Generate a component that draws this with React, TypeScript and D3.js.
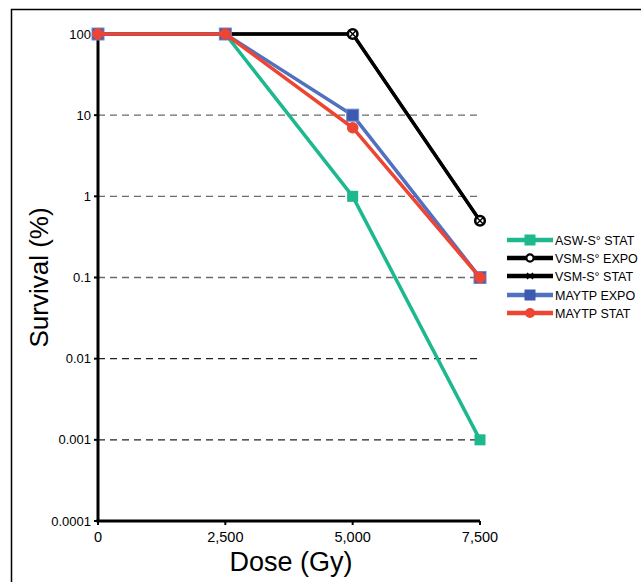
import { useEffect, useRef } from "react"
import * as d3 from "d3"

const doses = [0, 2500, 5000, 7500]
const xTicks = [0, 2500, 5000, 7500]
const yTicks = [100, 10, 1, 0.1, 0.01, 0.001, 0.0001]
const yTickLabels = ["100", "10", "1", "0.1", "0.01", "0.001", "0.0001"]
const gridValues = [10, 1, 0.1, 0.01, 0.001]

const aswStat = [100, 100, 1, 0.001]
const vsmExpo = [100, 100, 100, 0.5]
const vsmStat = [100, 100, 100, 0.5]
const maytpExpo = [100, 100, 10, 0.1]
const maytpStat = [100, 100, 7, 0.1]

const seriesNames = ["ASW-S° STAT", "VSM-S° EXPO", "VSM-S° STAT", "MAYTP EXPO", "MAYTP STAT"]

export default function App() {
    const ref = useRef<SVGSVGElement>(null)

    useEffect(() => {
        const width = 641
        const height = 582
        const font = "'Liberation Sans', Arial, sans-serif"

        const svg = d3.select(ref.current)
        svg.selectAll("*").remove()
        svg.attr("width", width).attr("height", height)

        // frame
        svg.append("path")
            .attr("d", `M11.5 ${height} V9.5 H${width}`)
            .attr("fill", "none")
            .attr("stroke", "black")
            .attr("stroke-width", 1.5)

        const x = d3.scaleLinear().domain([0, 7500]).range([98, 480])
        const y = d3.scaleLog().domain([0.0001, 100]).range([521, 34])

        // grid
        svg.append("g")
            .selectAll("line")
            .data(gridValues)
            .join("line")
                .attr("x1", x(0))
                .attr("x2", x(7500))
                .attr("y1", d => y(d))
                .attr("y2", d => y(d))
                .attr("stroke", (d, i) => i < 3 ? "#6b6b6b" : "#222")
                .attr("stroke-width", 1.3)
                .attr("stroke-dasharray", "7,5")

        // axes
        const axes = svg.append("g").attr("stroke", "black")
        axes.append("line")
            .attr("x1", x(0)).attr("x2", x(0))
            .attr("y1", y(100)).attr("y2", y(0.0001))
            .attr("stroke-width", 3)
        axes.append("line")
            .attr("x1", x(0) - 1.5).attr("x2", x(7500))
            .attr("y1", y(0.0001)).attr("y2", y(0.0001))
            .attr("stroke-width", 3)
        axes.selectAll(".yt")
            .data(yTicks)
            .join("line")
                .attr("x1", x(0) - 4).attr("x2", x(0))
                .attr("y1", d => y(d)).attr("y2", d => y(d))
                .attr("stroke-width", 2)
        axes.selectAll(".xt")
            .data(xTicks)
            .join("line")
                .attr("x1", d => x(d)).attr("x2", d => x(d))
                .attr("y1", y(0.0001)).attr("y2", y(0.0001) + 4)
                .attr("stroke-width", 2)

        svg.append("g")
            .selectAll("text")
            .data(yTicks)
            .join("text")
                .attr("x", x(0) - 7)
                .attr("y", d => y(d))
                .attr("dy", "0.35em")
                .attr("text-anchor", "end")
                .attr("font-family", font)
                .attr("font-size", 13)
                .text((d, i) => yTickLabels[i])

        svg.append("g")
            .selectAll("text")
            .data(xTicks)
            .join("text")
                .attr("x", d => x(d))
                .attr("y", 542)
                .attr("text-anchor", "middle")
                .attr("font-family", font)
                .attr("font-size", 14.5)
                .text(d => d3.format(",")(d))

        svg.append("text")
            .attr("x", 291)
            .attr("y", 571)
            .attr("text-anchor", "middle")
            .attr("font-family", font)
            .attr("font-size", 27)
            .text("Dose (Gy)")

        svg.append("text")
            .attr("transform", `translate(48, ${y(0.1)}) rotate(-90)`)
            .attr("text-anchor", "middle")
            .attr("font-family", font)
            .attr("font-size", 26)
            .text("Survival (%)")

        const line = d3.line<number>()
            .x((d, i) => x(doses[i]))
            .y(d => y(d))

        const drawSeries = (vals: number[], color: string, w: number) => {
            svg.append("path")
                .datum(vals)
                .attr("d", line)
                .attr("fill", "none")
                .attr("stroke", color)
                .attr("stroke-width", w)
                .attr("stroke-linejoin", "round")
        }
        const squares = (vals: number[], color: string, s: number, stroke?: string) => {
            svg.append("g")
                .selectAll("rect")
                .data(vals)
                .join("rect")
                    .attr("x", (d, i) => x(doses[i]) - s / 2)
                    .attr("y", d => y(d) - s / 2)
                    .attr("width", s)
                    .attr("height", s)
                    .attr("fill", color)
                    .attr("stroke", stroke ?? "none")
        }
        const circles = (vals: number[], fill: string, r: number, stroke: string, sw: number) => {
            svg.append("g")
                .selectAll("circle")
                .data(vals)
                .join("circle")
                    .attr("cx", (d, i) => x(doses[i]))
                    .attr("cy", d => y(d))
                    .attr("r", r)
                    .attr("fill", fill)
                    .attr("stroke", stroke)
                    .attr("stroke-width", sw)
        }
        const crosses = (vals: number[], s: number) => {
            svg.append("g")
                .selectAll("path")
                .data(vals)
                .join("path")
                    .attr("d", (d, i) => {
                        const cx = x(doses[i]), cy = y(d)
                        return `M${cx - s} ${cy - s} L${cx + s} ${cy + s} M${cx - s} ${cy + s} L${cx + s} ${cy - s}`
                    })
                    .attr("stroke", "black")
                    .attr("stroke-width", 1.5)
        }

        // ASW-S STAT
        drawSeries(aswStat, "#1db88e", 3.5)
        squares(aswStat, "#1db88e", 11)
        // VSM-S EXPO / STAT
        drawSeries(vsmExpo, "black", 3.5)
        drawSeries(vsmStat, "black", 3)
        circles(vsmExpo, "white", 4.8, "black", 2.6)
        crosses(vsmStat, 3)
        // MAYTP EXPO
        drawSeries(maytpExpo, "#5070c0", 3.5)
        squares(maytpExpo, "#3c5bb0", 12, "#6f8ad0")
        // MAYTP STAT
        drawSeries(maytpStat, "#ee4433", 3.5)
        circles(maytpStat, "#ee4433", 5.8, "none", 0)

        // legend
        const legendY = [240, 258, 276, 295, 313]
        const lg = svg.append("g")
        const lx1 = 507, lx2 = 553, mx = 530
        const colors = ["#1db88e", "black", "black", "#5070c0", "#ee4433"]
        seriesNames.forEach((name, i) => {
            const ly = legendY[i]
            lg.append("line")
                .attr("x1", lx1).attr("x2", lx2)
                .attr("y1", ly).attr("y2", ly)
                .attr("stroke", colors[i])
                .attr("stroke-width", 4.5)
            if (i === 0) {
                lg.append("rect").attr("x", mx - 5.5).attr("y", ly - 5.5).attr("width", 11).attr("height", 11).attr("fill", "#1db88e")
            } else if (i === 1) {
                lg.append("circle").attr("cx", mx).attr("cy", ly).attr("r", 3.6).attr("fill", "white").attr("stroke", "black").attr("stroke-width", 2.2)
            } else if (i === 2) {
                lg.append("path")
                    .attr("d", `M${mx - 3} ${ly - 3} L${mx + 3} ${ly + 3} M${mx - 3} ${ly + 3} L${mx + 3} ${ly - 3}`)
                    .attr("stroke", "black").attr("stroke-width", 1.5)
            } else if (i === 3) {
                lg.append("rect").attr("x", mx - 5.5).attr("y", ly - 5.5).attr("width", 11).attr("height", 11).attr("fill", "#3c5bb0")
            } else {
                lg.append("circle").attr("cx", mx).attr("cy", ly).attr("r", 5).attr("fill", "#ee4433")
            }
            lg.append("text")
                .attr("x", 555)
                .attr("y", ly)
                .attr("dy", "0.36em")
                .attr("font-family", font)
                .attr("font-size", 12.5)
                .text(name)
        })
    }, [])

    return (
        <svg ref={ref} style={{ position: "absolute", left: 0, top: 0, background: "white" }} />
    )
}
